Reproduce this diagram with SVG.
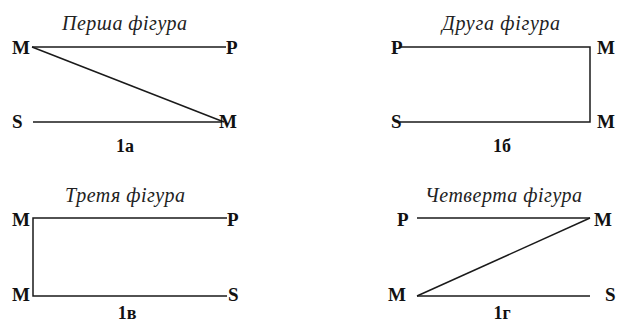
<svg xmlns="http://www.w3.org/2000/svg" width="619" height="323" viewBox="0 0 619 323">
<defs>
<style>
.ln{stroke:#1a1a1a;stroke-width:1.5;fill:none}
</style>
</defs>
<rect width="619" height="323" fill="#fff"/>
<g id="connectors">
<line class="ln" x1="32" y1="47" x2="226" y2="47"/>
<line class="ln" x1="32" y1="47" x2="224" y2="122"/>
<line class="ln" x1="33" y1="122" x2="222" y2="122"/>
<polyline class="ln" points="400,47 590,47 590,122 400,122"/>
<polyline class="ln" points="227,218 33,218 33,296 227,296"/>
<line class="ln" x1="417" y1="218" x2="590" y2="218"/>
<line class="ln" x1="590" y1="218" x2="417" y2="296"/>
<line class="ln" x1="417" y1="296" x2="590" y2="296"/>
</g>
<g id="titles" font-family="Liberation Serif" font-style="italic" font-size="20" fill="#222" text-anchor="middle">
<text x="124.5" y="30" textLength="125" lengthAdjust="spacing">Перша фігура</text>
<text x="501" y="30" textLength="118" lengthAdjust="spacing">Друга фігура</text>
<text x="125" y="202" textLength="120" lengthAdjust="spacing">Третя фігура</text>
<text x="503.5" y="202" textLength="157" lengthAdjust="spacing">Четверта фігура</text>
</g>
<g font-family="Liberation Serif" font-weight="bold" font-size="19" fill="#111">
<g id="fig1">
<text x="12" y="54">M</text>
<text x="226" y="54">P</text>
<text x="12" y="128">S</text>
<text x="219" y="128">M</text>
<text x="125" y="152" font-size="18" text-anchor="middle">1а</text>
</g>
<g id="fig2">
<text x="391" y="54">P</text>
<text x="597" y="54">M</text>
<text x="391" y="128">S</text>
<text x="597" y="128">M</text>
<text x="502" y="152" font-size="18" text-anchor="middle">1б</text>
</g>
<g id="fig3">
<text x="12" y="226">M</text>
<text x="227" y="226">P</text>
<text x="12" y="301">M</text>
<text x="228" y="301">S</text>
<text x="127" y="319" font-size="18" text-anchor="middle">1в</text>
</g>
<g id="fig4">
<text x="397" y="226">P</text>
<text x="594" y="226">M</text>
<text x="388" y="301">M</text>
<text x="605" y="301">S</text>
<text x="502" y="319" font-size="18" text-anchor="middle">1г</text>
</g>
</g>
</svg>
